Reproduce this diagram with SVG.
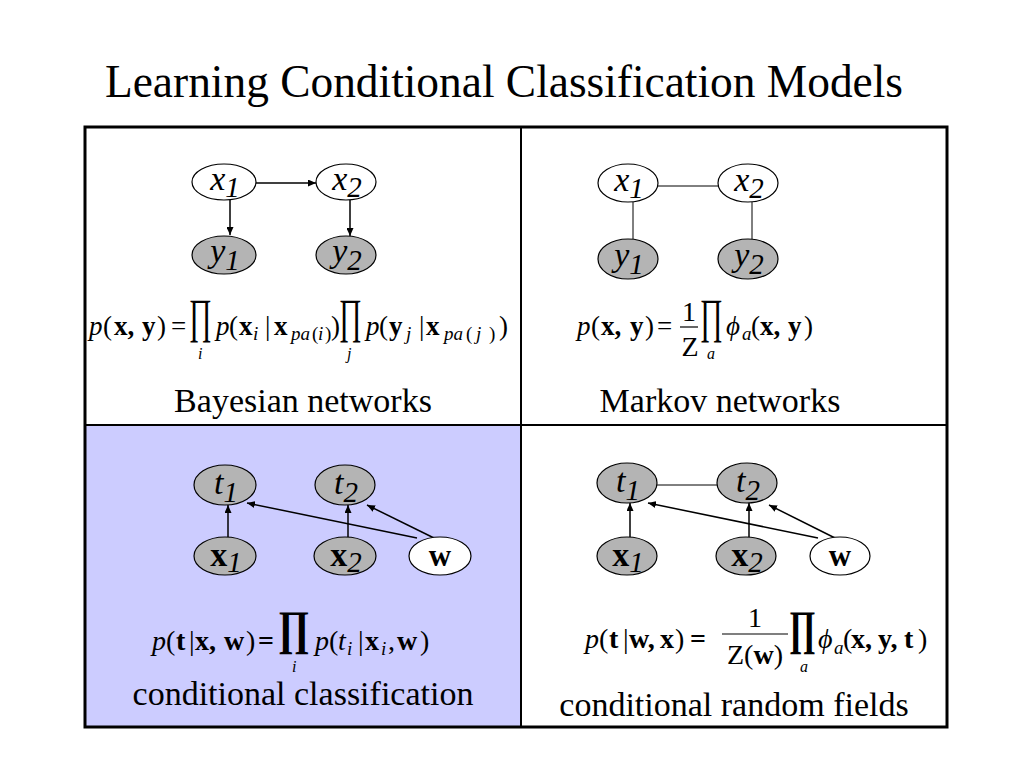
<svg xmlns="http://www.w3.org/2000/svg" width="1024" height="768" viewBox="0 0 1024 768">
<style>
.f{font-family:"Liberation Serif","Times New Roman",serif;fill:#000}
.i{font-style:italic}
.b{font-weight:bold}
.wn{fill:#fff;stroke:#000;stroke-width:1.2}
.gn{fill:#B4B4B4;stroke:#000;stroke-width:1.2}
.nl{font-size:34px}
.ns{font-size:29px}
.lab{font-size:34px}
.eq{font-size:27px}
.sub{font-size:19px}
.pr{font-size:48px}
.arr{stroke:#000;stroke-width:1.5;fill:none;marker-end:url(#ah)}
.und{stroke:#000;stroke-width:1;fill:none}
</style>
<defs>
<marker id="ah" markerUnits="userSpaceOnUse" markerWidth="8" markerHeight="7" refX="8" refY="3.5" orient="auto">
<path d="M0,0 L8,3.5 L0,7 z" fill="#000"/>
</marker>
</defs>
<rect width="1024" height="768" fill="#fff"/>
<text class="f" x="504" y="97" font-size="45.4" text-anchor="middle">Learning Conditional Classification Models</text>
<g id="table">
<rect x="85" y="425" width="436" height="302" fill="#CCCCFF"/>
<line x1="521" y1="127" x2="521" y2="727" stroke="#000" stroke-width="2"/>
<line x1="85" y1="425" x2="947" y2="425" stroke="#000" stroke-width="2"/>
<rect x="85" y="127" width="862" height="600" fill="none" stroke="#000" stroke-width="3"/>
</g>
<g id="connectors">
<line class="arr" x1="256" y1="183" x2="316" y2="183"/>
<line class="arr" x1="230" y1="200" x2="230" y2="235"/>
<line class="arr" x1="350" y1="200" x2="350" y2="236"/>
<line class="und" x1="658" y1="186" x2="718" y2="186"/>
<line class="und" x1="633" y1="202" x2="633" y2="239"/>
<line class="und" x1="752" y1="202" x2="752" y2="239"/>
<line class="arr" x1="228" y1="537" x2="228" y2="505"/>
<line class="arr" x1="348" y1="537" x2="348" y2="505"/>
<line class="arr" x1="417" y1="538" x2="247" y2="503"/>
<line class="arr" x1="434" y1="538" x2="367" y2="505"/>
<line class="und" x1="657" y1="485" x2="717" y2="485"/>
<line class="arr" x1="630" y1="537" x2="630" y2="503"/>
<line class="arr" x1="749" y1="537" x2="749" y2="503"/>
<line class="arr" x1="818" y1="538" x2="648" y2="503"/>
<line class="arr" x1="835" y1="538" x2="769" y2="505"/>
</g>
<g id="bn-x1"><ellipse class="wn" cx="224" cy="182" rx="32" ry="18"/><text class="f i nl" x="225" y="190" text-anchor="middle">x<tspan class="ns" dy="7">1</tspan></text></g>
<g id="bn-x2"><ellipse class="wn" cx="346" cy="182" rx="30" ry="18"/><text class="f i nl" x="347" y="190" text-anchor="middle">x<tspan class="ns" dy="7">2</tspan></text></g>
<g id="bn-y1"><ellipse class="gn" cx="224" cy="255" rx="32" ry="19"/><text class="f i nl" x="225" y="262" text-anchor="middle">y<tspan class="ns" dy="8">1</tspan></text></g>
<g id="bn-y2"><ellipse class="gn" cx="346" cy="255" rx="30" ry="19"/><text class="f i nl" x="347" y="262" text-anchor="middle">y<tspan class="ns" dy="8">2</tspan></text></g>
<g id="mn-x1"><ellipse class="wn" cx="628" cy="183" rx="30" ry="19"/><text class="f i nl" x="629" y="191" text-anchor="middle">x<tspan class="ns" dy="7">1</tspan></text></g>
<g id="mn-x2"><ellipse class="wn" cx="748" cy="183" rx="30" ry="19"/><text class="f i nl" x="749" y="191" text-anchor="middle">x<tspan class="ns" dy="7">2</tspan></text></g>
<g id="mn-y1"><ellipse class="gn" cx="628" cy="259" rx="30" ry="20"/><text class="f i nl" x="629" y="266" text-anchor="middle">y<tspan class="ns" dy="8">1</tspan></text></g>
<g id="mn-y2"><ellipse class="gn" cx="748" cy="259" rx="30" ry="20"/><text class="f i nl" x="749" y="266" text-anchor="middle">y<tspan class="ns" dy="8">2</tspan></text></g>
<g id="cc-t1"><ellipse class="gn" cx="225" cy="485" rx="31" ry="20"/><text class="f i nl" x="226" y="494" text-anchor="middle">t<tspan class="ns" dy="8">1</tspan></text></g>
<g id="cc-t2"><ellipse class="gn" cx="345" cy="485" rx="30" ry="20"/><text class="f i nl" x="346" y="494" text-anchor="middle">t<tspan class="ns" dy="8">2</tspan></text></g>
<g id="cc-x1"><ellipse class="gn" cx="225" cy="556" rx="31" ry="19"/><text class="f nl" x="226" y="566" text-anchor="middle"><tspan class="b">x</tspan><tspan class="i ns" dy="6">1</tspan></text></g>
<g id="cc-x2"><ellipse class="gn" cx="345" cy="556" rx="31" ry="19"/><text class="f nl" x="346" y="566" text-anchor="middle"><tspan class="b">x</tspan><tspan class="i ns" dy="6">2</tspan></text></g>
<g id="cc-w"><ellipse class="wn" cx="440" cy="556" rx="31" ry="19"/><text class="f b" font-size="31" x="440" y="566" text-anchor="middle">w</text></g>
<g id="crf-t1"><ellipse class="gn" cx="627" cy="483" rx="30" ry="20"/><text class="f i nl" x="628" y="492" text-anchor="middle">t<tspan class="ns" dy="8">1</tspan></text></g>
<g id="crf-t2"><ellipse class="gn" cx="747" cy="483" rx="30" ry="20"/><text class="f i nl" x="748" y="492" text-anchor="middle">t<tspan class="ns" dy="8">2</tspan></text></g>
<g id="crf-x1"><ellipse class="gn" cx="627" cy="556" rx="30" ry="19"/><text class="f nl" x="628" y="566" text-anchor="middle"><tspan class="b">x</tspan><tspan class="i ns" dy="6">1</tspan></text></g>
<g id="crf-x2"><ellipse class="gn" cx="746" cy="556" rx="30" ry="19"/><text class="f nl" x="747" y="566" text-anchor="middle"><tspan class="b">x</tspan><tspan class="i ns" dy="6">2</tspan></text></g>
<g id="crf-w"><ellipse class="wn" cx="840" cy="556" rx="30" ry="19"/><text class="f b" font-size="31" x="840" y="566" text-anchor="middle">w</text></g>
<g id="formula-bn">
<text class="f eq" y="335"><tspan class="i" x="89">p</tspan><tspan x="103">(</tspan><tspan class="b" x="114">x,</tspan><tspan class="b" x="142">y</tspan><tspan x="157">)</tspan><tspan x="171">=</tspan><tspan class="i" x="216">p</tspan><tspan x="229">(</tspan><tspan class="b" x="239">x</tspan><tspan class="i sub" x="253" y="340">i</tspan><tspan x="265" y="335">|</tspan><tspan class="b" x="274">x</tspan><tspan class="i sub" x="291" y="340">pa</tspan><tspan class="sub" x="312" y="340">(</tspan><tspan class="i sub" x="318" y="340">i</tspan><tspan class="sub" x="325" y="340">)</tspan><tspan x="331" y="335">)</tspan><tspan class="i" x="366">p</tspan><tspan x="379">(</tspan><tspan class="b" x="389">y</tspan><tspan class="i sub" x="406" y="340">j</tspan><tspan x="419" y="335">|</tspan><tspan class="b" x="426">x</tspan><tspan class="i sub" x="444" y="340">pa</tspan><tspan class="sub" x="466" y="340">(</tspan><tspan class="i sub" x="476" y="340">j</tspan><tspan class="sub" x="489" y="340">)</tspan><tspan x="499" y="335">)</tspan></text>
<text class="f pr" transform="translate(189,332) scale(0.58,1)">∏</text>
<text class="f pr" transform="translate(339,332) scale(0.58,1)">∏</text>
<text class="f i" font-size="16" x="198" y="359">i</text>
<text class="f i" font-size="16" x="347" y="359">j</text>
</g>
<g id="formula-mn">
<text class="f eq" y="335"><tspan class="i" x="577">p</tspan><tspan x="591">(</tspan><tspan class="b" x="601">x,</tspan><tspan class="b" x="630">y</tspan><tspan x="645">)</tspan><tspan x="657">=</tspan><tspan class="i" x="726">ϕ</tspan><tspan class="i sub" x="742" y="340">a</tspan><tspan x="751" y="335">(</tspan><tspan class="b" x="760">x,</tspan><tspan class="b" x="788">y</tspan><tspan x="804">)</tspan></text>
<text class="f" font-size="28" x="689" y="321" text-anchor="middle">1</text>
<line x1="680" y1="327" x2="698" y2="327" stroke="#000" stroke-width="1.2"/>
<text class="f" font-size="28" x="690" y="356" text-anchor="middle">Z</text>
<text class="f pr" transform="translate(700,332) scale(0.58,1)">∏</text>
<text class="f i" font-size="16" x="707" y="359">a</text>
</g>
<g id="formula-cc">
<text class="f" font-size="28" y="650"><tspan class="i" x="152">p</tspan><tspan x="166">(</tspan><tspan class="b" x="176">t</tspan><tspan x="189">|</tspan><tspan class="b" x="195">x,</tspan><tspan class="b" x="224">w</tspan><tspan x="246">)</tspan><tspan class="b" x="258">=</tspan><tspan class="i" x="315">p</tspan><tspan x="329">(</tspan><tspan class="i" x="338">t</tspan><tspan class="i sub" x="347" y="655">i</tspan><tspan x="358" y="650">|</tspan><tspan class="b" x="365">x</tspan><tspan class="i sub" x="381" y="655">i</tspan><tspan x="388" y="650">,</tspan><tspan class="b" x="397">w</tspan><tspan x="420">)</tspan></text>
<text class="f b pr" transform="translate(278,644) scale(0.8,1)">∏</text>
<text class="f i" font-size="16" x="292" y="672">i</text>
</g>
<g id="formula-crf">
<text class="f" font-size="28" y="648"><tspan class="i" x="585">p</tspan><tspan x="599">(</tspan><tspan class="b" x="609">t</tspan><tspan x="623">|</tspan><tspan class="b" x="629">w,</tspan><tspan class="b" x="660">x</tspan><tspan x="675">)</tspan><tspan class="b" x="690">=</tspan><tspan class="i" x="818">ϕ</tspan><tspan class="i sub" x="834" y="654">a</tspan><tspan x="843" y="648">(</tspan><tspan class="b" x="851">x,</tspan><tspan class="b" x="878">y,</tspan><tspan class="b" x="904">t</tspan><tspan x="918">)</tspan></text>
<text class="f" font-size="28" x="755" y="627" text-anchor="middle">1</text>
<line x1="722" y1="634" x2="788" y2="634" stroke="#000" stroke-width="1.2"/>
<text class="f" font-size="28" x="755" y="664" text-anchor="middle">Z(<tspan class="b">w</tspan>)</text>
<text class="f b pr" transform="translate(789,644) scale(0.68,1)">∏</text>
<text class="f i" font-size="16" x="800" y="672">a</text>
</g>
<text class="f lab" x="303" y="412" text-anchor="middle">Bayesian networks</text>
<text class="f lab" x="720" y="412" text-anchor="middle">Markov networks</text>
<text class="f lab" x="303" y="705" text-anchor="middle">conditional classification</text>
<text class="f lab" x="734" y="716" text-anchor="middle">conditional random fields</text>
</svg>
